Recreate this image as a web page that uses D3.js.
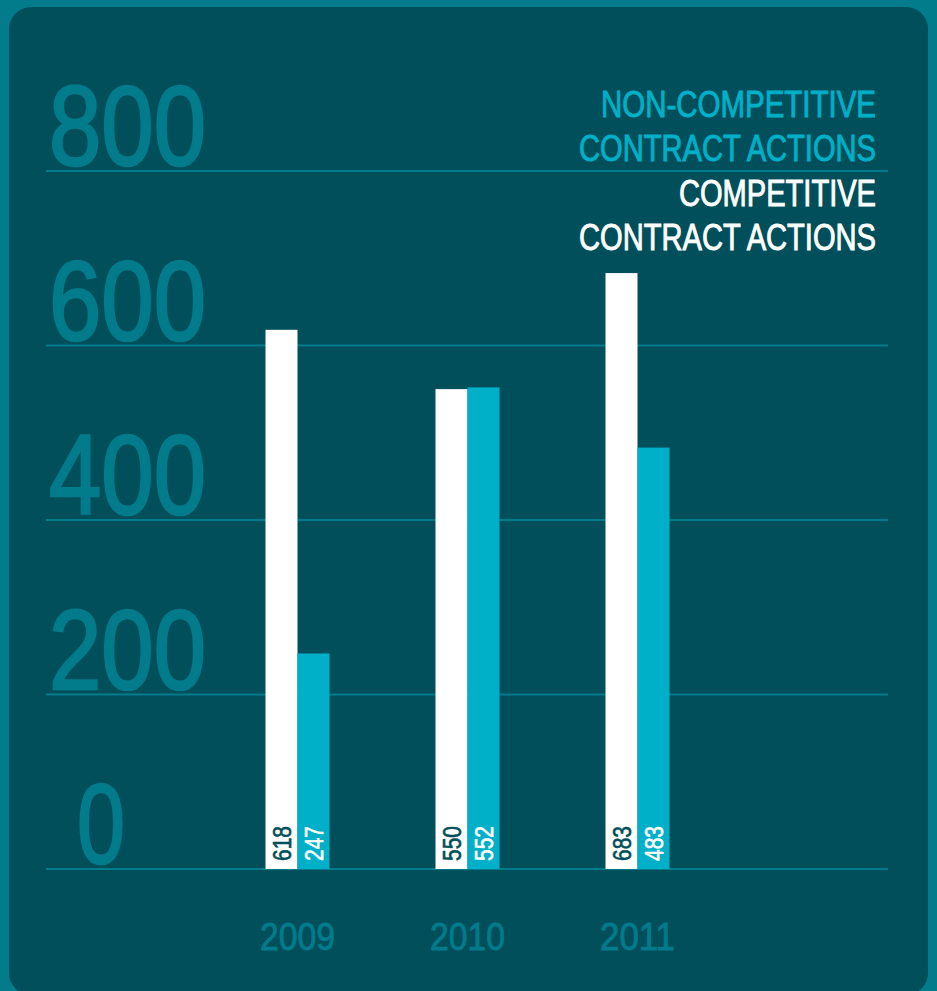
<!DOCTYPE html>
<html>
<head>
<meta charset="utf-8">
<script src="https://cdn.jsdelivr.net/npm/d3@7"></script>
<style>
  body { margin: 0; background: #027b8b; }
  text { font-family: "Liberation Sans Narrow", "Arial Narrow", "Liberation Sans", Arial, sans-serif; }
</style>
</head>
<body>
<div id="chart"></div>
<script>
var years = ["2009", "2010", "2011"];
var competitive = [618, 550, 683];
var nonCompetitive = [247, 552, 483];
var seriesKeys = ["competitive", "nonCompetitive"];
var yTicks = [0, 200, 400, 600, 800];
var legendLines = [
  ["NON-COMPETITIVE", "CONTRACT ACTIONS"],
  ["COMPETITIVE", "CONTRACT ACTIONS"]
];

var width = 937, height = 991;
var frame = "#027b8b", panel = "#004f5b", cyan = "#00b0c8";
var seriesColor = { competitive: "#ffffff", nonCompetitive: cyan };
var labelColor = { competitive: panel, nonCompetitive: "#ffffff" };

var svg = d3.select("#chart").append("svg")
    .attr("width", width)
    .attr("height", height);

svg.append("rect")
    .attr("width", width)
    .attr("height", height)
    .attr("fill", frame);

// rounded inner panel
svg.append("rect")
    .attr("x", 9).attr("y", 7)
    .attr("width", 919).attr("height", 988)
    .attr("rx", 22).attr("ry", 22)
    .attr("fill", panel);

var y = d3.scaleLinear().domain([0, 800]).range([869, 171]);
var x = d3.scalePoint().domain(years).range([297.5, 637.5]);
var xs = d3.scaleBand().domain(seriesKeys).range([-32, 32]);

// gridlines
svg.append("g").selectAll("line")
    .data(yTicks)
    .enter().append("line")
    .attr("x1", 46).attr("x2", 888)
    .attr("y1", function(d){ return y(d); })
    .attr("y2", function(d){ return y(d); })
    .attr("stroke", frame)
    .attr("stroke-width", 2);

// big tick labels
svg.append("g").selectAll("text")
    .data(yTicks)
    .enter().append("text")
    .attr("x", function(d){ return d == 0 ? 77 : 49; })
    .attr("y", function(d){ return y(d) - 6; })
    .attr("fill", frame)
    .attr("stroke", frame)
    .attr("stroke-width", 2.5)
    .attr("font-size", 114)
    .attr("textLength", function(d){ return d == 0 ? 48 : 157; })
    .attr("lengthAdjust", "spacingAndGlyphs")
    .text(function(d){ return d; });

// legend
var legendWidths = [[275, 297], [197, 297]];
var legendBase = [[117, 161], [206, 250]];
var legendFill = [cyan, "#ffffff"];
legendLines.forEach(function(lines, i){
  lines.forEach(function(t, j){
    svg.append("text")
      .attr("x", 876)
      .attr("y", legendBase[i][j])
      .attr("text-anchor", "end")
      .attr("fill", legendFill[i])
      .attr("stroke", legendFill[i])
      .attr("stroke-width", 0.9)
      .attr("font-size", 36)
      .attr("textLength", legendWidths[i][j])
      .attr("lengthAdjust", "spacingAndGlyphs")
      .text(t);
  });
});

// bars
var rows = [];
years.forEach(function(yr, i){
  rows.push({ year: yr, key: "competitive", value: competitive[i] });
  rows.push({ year: yr, key: "nonCompetitive", value: nonCompetitive[i] });
});

var bars = svg.append("g").selectAll("g")
    .data(rows)
    .enter().append("g")
    .attr("transform", function(d){ return "translate(" + (x(d.year) + xs(d.key)) + ",0)"; });

bars.append("rect")
    .attr("x", 0)
    .attr("width", xs.bandwidth())
    .attr("y", function(d){ return y(d.value); })
    .attr("height", function(d){ return y(0) - y(d.value); })
    .attr("fill", function(d){ return seriesColor[d.key]; });

bars.append("text")
    .attr("transform", function(d){
      return "translate(" + (xs.bandwidth() / 2) + "," + (y(0) - 8) + ") rotate(-90)";
    })
    .attr("dy", "0.36em")
    .attr("font-size", 25)
    .attr("textLength", 35)
    .attr("lengthAdjust", "spacingAndGlyphs")
    .attr("fill", function(d){ return labelColor[d.key]; })
    .attr("stroke", function(d){ return labelColor[d.key]; })
    .attr("stroke-width", 0.6)
    .text(function(d){ return d.value; });

// year labels
svg.append("g").selectAll("text")
    .data(years)
    .enter().append("text")
    .attr("x", function(d){ return x(d); })
    .attr("y", 950)
    .attr("text-anchor", "middle")
    .attr("fill", frame)
    .attr("stroke", frame)
    .attr("stroke-width", 0.9)
    .attr("font-size", 39)
    .attr("textLength", 75)
    .attr("lengthAdjust", "spacingAndGlyphs")
    .text(function(d){ return d; });
</script>
</body>
</html>
